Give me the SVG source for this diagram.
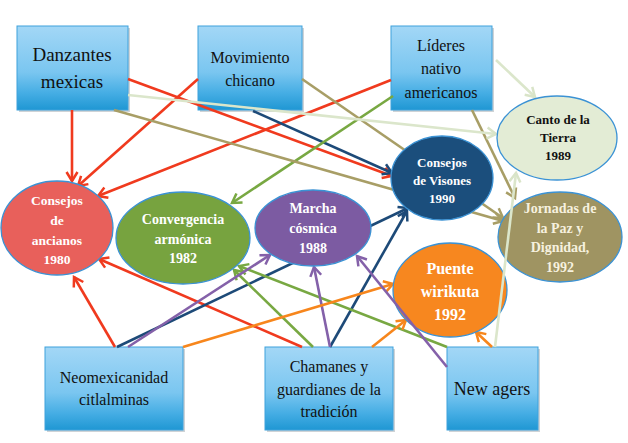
<svg xmlns="http://www.w3.org/2000/svg" width="628" height="443" viewBox="0 0 628 443">
<defs>
<linearGradient id="boxg" x1="0" y1="0" x2="0" y2="1">
<stop offset="0" stop-color="#a3d7f6"/>
<stop offset="0.55" stop-color="#7ac6f0"/>
<stop offset="0.8" stop-color="#45ade4"/>
<stop offset="1" stop-color="#1f97d3"/>
</linearGradient>
<marker id="a-red" markerUnits="userSpaceOnUse" markerWidth="14" markerHeight="14" refX="11" refY="7" orient="auto"><path d="M2,1.5 L11,7 L2,12.5" fill="none" stroke="#f03a1e" stroke-width="2.5"/></marker>
<marker id="a-navy" markerUnits="userSpaceOnUse" markerWidth="14" markerHeight="14" refX="11" refY="7" orient="auto"><path d="M2,1.5 L11,7 L2,12.5" fill="none" stroke="#1d4a78" stroke-width="2.5"/></marker>
<marker id="a-green" markerUnits="userSpaceOnUse" markerWidth="14" markerHeight="14" refX="11" refY="7" orient="auto"><path d="M2,1.5 L11,7 L2,12.5" fill="none" stroke="#78a842" stroke-width="2.5"/></marker>
<marker id="a-purple" markerUnits="userSpaceOnUse" markerWidth="14" markerHeight="14" refX="11" refY="7" orient="auto"><path d="M2,1.5 L11,7 L2,12.5" fill="none" stroke="#8461a9" stroke-width="2.5"/></marker>
<marker id="a-orange" markerUnits="userSpaceOnUse" markerWidth="14" markerHeight="14" refX="11" refY="7" orient="auto"><path d="M2,1.5 L11,7 L2,12.5" fill="none" stroke="#f7861c" stroke-width="2.5"/></marker>
<marker id="a-olive" markerUnits="userSpaceOnUse" markerWidth="14" markerHeight="14" refX="11" refY="7" orient="auto"><path d="M2,1.5 L11,7 L2,12.5" fill="none" stroke="#a89e66" stroke-width="2.5"/></marker>
<marker id="a-pale" markerUnits="userSpaceOnUse" markerWidth="14" markerHeight="14" refX="11" refY="7" orient="auto"><path d="M2,1.5 L11,7 L2,12.5" fill="none" stroke="#d9e4c8" stroke-width="2.5"/></marker>
</defs>
<style>
.box{fill:url(#boxg);stroke:#3fa2dc;stroke-width:1}
.shadow{fill:#cfd3d6}
text{font-family:'Liberation Serif','Times New Roman','DejaVu Serif',serif;text-anchor:middle}
.bt{fill:#111}
.et{font-weight:bold;fill:#fff}
.dk{fill:#111}
.cr{fill:#f6f1df}
.ell{stroke:#3b92d4;stroke-width:1.3}
.c{fill:none;stroke-width:2.6}
.red{stroke:#f03a1e;marker-end:url(#a-red)}
.navy{stroke:#1d4a78;marker-end:url(#a-navy)}
.green{stroke:#78a842;marker-end:url(#a-green)}
.purple{stroke:#8461a9;marker-end:url(#a-purple)}
.orange{stroke:#f7861c;marker-end:url(#a-orange)}
.olive{stroke:#a89e66;marker-end:url(#a-olive)}
.pale{stroke:#dbe6cb;marker-end:url(#a-pale)}
</style>
<rect width="628" height="443" fill="#fff"/>

<g id="danzantes">
<rect class="shadow" x="19" y="28" width="111" height="84"/>
<rect class="box" x="17" y="26" width="111" height="84"/>
<text class="bt" font-family="Liberation Serif, serif" x="72" y="61" font-size="19">Danzantes</text>
<text class="bt" font-family="Liberation Serif, serif" x="72" y="88" font-size="19">mexicas</text>
</g>
<g id="movimiento">
<rect class="shadow" x="200" y="28" width="104" height="84"/>
<rect class="box" x="198" y="26" width="104" height="84"/>
<text class="bt" font-family="Liberation Serif, serif" x="250" y="63" font-size="16">Movimiento</text>
<text class="bt" font-family="Liberation Serif, serif" x="250" y="86" font-size="16">chicano</text>
</g>
<g id="lideres">
<rect class="shadow" x="393" y="28" width="101" height="84"/>
<rect class="box" x="391" y="26" width="101" height="84"/>
<text class="bt" font-family="Liberation Serif, serif" x="441" y="51" font-size="16">Líderes</text>
<text class="bt" font-family="Liberation Serif, serif" x="441" y="74" font-size="16">nativo</text>
<text class="bt" font-family="Liberation Serif, serif" x="441" y="98" font-size="16">americanos</text>
</g>
<g id="neomexicanidad">
<rect class="shadow" x="47" y="349" width="138" height="83"/>
<rect class="box" x="45" y="347" width="138" height="83"/>
<text class="bt" font-family="Liberation Serif, serif" x="114" y="383" font-size="16">Neomexicanidad</text>
<text class="bt" font-family="Liberation Serif, serif" x="114" y="405" font-size="16">citlalminas</text>
</g>
<g id="chamanes">
<rect class="shadow" x="267" y="349" width="128" height="83"/>
<rect class="box" x="265" y="347" width="128" height="83"/>
<text class="bt" font-family="Liberation Serif, serif" x="329" y="372" font-size="16">Chamanes y</text>
<text class="bt" font-family="Liberation Serif, serif" x="329" y="395" font-size="16">guardianes de la</text>
<text class="bt" font-family="Liberation Serif, serif" x="329" y="417" font-size="16">tradición</text>
</g>
<g id="newagers">
<rect class="shadow" x="449" y="349" width="91" height="83"/>
<rect class="box" x="447" y="347" width="91" height="83"/>
<text class="bt" font-family="Liberation Serif, serif" x="492" y="395" font-size="18">New agers</text>
</g>

<g id="connectors">
<path class="c red" d="M72,110 L72,181"/>
<path class="c red" d="M198,79 L78,186"/>
<path class="c red" d="M391,80 L98,196"/>
<path class="c red" d="M128,79 L392,176"/>
<path class="c red" d="M302,347 L99,259"/>
<path class="c red" d="M115,347 L74,277"/>
<path class="c navy" d="M253,111 L392,173"/>
<path class="c navy" d="M117,347 L408,208"/>
<path class="c navy" d="M330,347 L407,211"/>
<path class="c green" d="M393,96 L232,203"/>
<path class="c green" d="M313,347 L234,270"/>
<path class="c green" d="M447,347 L239,266"/>
<path class="c purple" d="M128,347 L270,255"/>
<path class="c purple" d="M330,347 L314,267"/>
<path class="c orange" d="M183,347 L393,284"/>
<path class="c orange" d="M372,347 L406,320"/>
<path class="c orange" d="M492,347 L476,332"/>
<path class="c olive" d="M302,79 L503,218"/>
<path class="c olive" d="M114,110 L503,221"/>
<path class="c olive" d="M472,110 L515,198"/>
<path class="c pale" d="M496,60 L535,97"/>
<path class="c pale" d="M128,95 L496,134"/>
</g>

<g id="ancianos">
<ellipse class="ell" cx="57" cy="228" rx="56" ry="47" fill="#e8605b" stroke="#e65550"/>
<text class="et" font-family="Liberation Serif, serif" x="57" y="205" font-size="13.5">Consejos</text>
<text class="et" font-family="Liberation Serif, serif" x="57" y="225" font-size="13.5">de</text>
<text class="et" font-family="Liberation Serif, serif" x="57" y="245" font-size="13.5">ancianos</text>
<text class="et" font-family="Liberation Serif, serif" x="57" y="264" font-size="13.5">1980</text>
</g>
<g id="convergencia">
<ellipse class="ell" cx="183" cy="238" rx="67" ry="46" fill="#77a33f"/>
<text class="et" font-family="Liberation Serif, serif" x="183" y="224" font-size="14">Convergencia</text>
<text class="et" font-family="Liberation Serif, serif" x="183" y="244" font-size="14">armónica</text>
<text class="et" font-family="Liberation Serif, serif" x="183" y="263" font-size="14">1982</text>
</g>
<g id="marcha">
<ellipse class="ell" cx="313" cy="228" rx="58" ry="38" fill="#7c5ba2"/>
<text class="et" font-family="Liberation Serif, serif" x="313" y="213" font-size="14">Marcha</text>
<text class="et" font-family="Liberation Serif, serif" x="313" y="233" font-size="14">cósmica</text>
<text class="et" font-family="Liberation Serif, serif" x="313" y="253" font-size="14">1988</text>
</g>
<g id="visones">
<ellipse class="ell" cx="442" cy="178" rx="51" ry="42" fill="#1b4e7c"/>
<text class="et" font-family="Liberation Serif, serif" x="442" y="167" font-size="13">Consejos</text>
<text class="et" font-family="Liberation Serif, serif" x="442" y="185" font-size="13">de Visones</text>
<text class="et" font-family="Liberation Serif, serif" x="442" y="203" font-size="13">1990</text>
</g>
<g id="canto">
<ellipse class="ell" cx="557" cy="138" rx="60" ry="42" fill="#e3ecd5" stroke="#2d8fd2"/>
<text class="et dk" font-family="Liberation Serif, serif" x="558" y="124" font-size="13">Canto de la</text>
<text class="et dk" font-family="Liberation Serif, serif" x="558" y="142" font-size="13">Tierra</text>
<text class="et dk" font-family="Liberation Serif, serif" x="558" y="160" font-size="13">1989</text>
</g>
<g id="jornadas">
<ellipse class="ell" cx="560" cy="237" rx="62" ry="45" fill="#9f9462"/>
<text class="et cr" font-family="Liberation Serif, serif" x="560" y="213" font-size="14">Jornadas de</text>
<text class="et cr" font-family="Liberation Serif, serif" x="560" y="233" font-size="14">la Paz y</text>
<text class="et cr" font-family="Liberation Serif, serif" x="560" y="252" font-size="14">Dignidad,</text>
<text class="et cr" font-family="Liberation Serif, serif" x="560" y="272" font-size="14">1992</text>
</g>
<g id="puente">
<ellipse class="ell" cx="450" cy="290" rx="57" ry="47" fill="#f7871f"/>
<text class="et" font-family="Liberation Serif, serif" x="450" y="274" font-size="16">Puente</text>
<text class="et" font-family="Liberation Serif, serif" x="450" y="297" font-size="16">wirikuta</text>
<text class="et" font-family="Liberation Serif, serif" x="450" y="320" font-size="16">1992</text>
</g>

<g id="connectors-front">
<path class="c purple" d="M447,367 L357,256"/>
<path class="c pale" d="M495,347 L516,173"/>
</g>
</svg>
